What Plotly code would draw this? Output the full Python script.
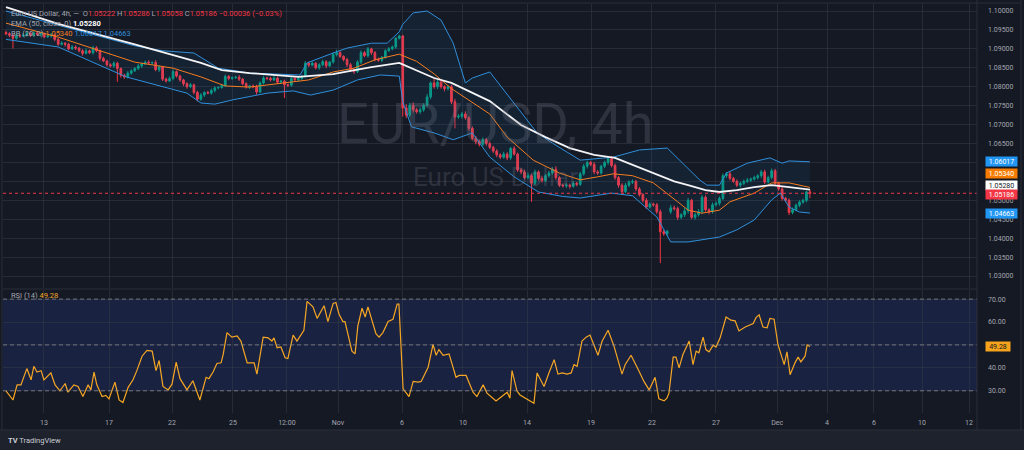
import plotly.graph_objects as go

# ---------------- layout geometry (pixels) ----------------
W, H = 1024, 450
ML, MR, MT, MB = 3, 47, 4, 37
PW = W - ML - MR
PH = H - MT - MB


def px(x):
    return (x - ML) / PW


def py(y):
    return (H - MB - y) / PH


# ---------------- data ----------------
FIRST_OPEN = 1.0943
CLOSE = [
    1.0940, 1.0936, 1.0928, 1.0935, 1.0934, 1.0936, 1.0942, 1.0936, 1.0942, 1.0938,
    1.0940, 1.0932, 1.0934, 1.0937, 1.0925, 1.0912, 1.0915, 1.0912, 1.0900, 1.0905,
    1.0902, 1.0895, 1.0888, 1.0895, 1.0890, 1.0903, 1.0895, 1.0875, 1.0868, 1.0858,
    1.0855, 1.0862, 1.0848, 1.0830, 1.0826, 1.0836, 1.0842, 1.0848, 1.0855, 1.0860,
    1.0865, 1.0863, 1.0864, 1.0845, 1.0852, 1.0820, 1.0815, 1.0822, 1.0840, 1.0828,
    1.0818, 1.0808, 1.0800, 1.0805, 1.0785, 1.0767, 1.0778, 1.0785, 1.0783, 1.0790,
    1.0797, 1.0798, 1.0803, 1.0827, 1.0822, 1.0824, 1.0825, 1.0820, 1.0808, 1.0800,
    1.0802, 1.0800, 1.0786, 1.0810, 1.0823, 1.0822, 1.0818, 1.0823, 1.0812, 1.0815,
    1.0805, 1.0804, 1.0822, 1.0818, 1.0822, 1.0828, 1.0862, 1.0857, 1.0862, 1.0850,
    1.0858, 1.0866, 1.0855, 1.0865, 1.0885, 1.0890, 1.0880, 1.0872, 1.0858, 1.0845,
    1.0840, 1.0865, 1.0890, 1.0882, 1.0900, 1.0890, 1.0872, 1.0870, 1.0878, 1.0895,
    1.0900, 1.0905, 1.0928, 1.0934, 1.0744, 1.0725, 1.0751, 1.0739, 1.0734, 1.0739,
    1.0751, 1.0773, 1.0810, 1.0800, 1.0812, 1.0800, 1.0795, 1.0800, 1.0760, 1.0720,
    1.0722, 1.0728, 1.0718, 1.0690, 1.0664, 1.0655, 1.0648, 1.0660, 1.0650, 1.0640,
    1.0630, 1.0620, 1.0614, 1.0622, 1.0612, 1.0637, 1.0622, 1.0580, 1.0575, 1.0560,
    1.0565, 1.0545, 1.0575, 1.0558, 1.0552, 1.0565, 1.0572, 1.0582, 1.0560, 1.0540,
    1.0538, 1.0540, 1.0537, 1.0545, 1.0542, 1.0570, 1.0590, 1.0600, 1.0595, 1.0575,
    1.0572, 1.0590, 1.0600, 1.0610, 1.0592, 1.0560, 1.0540, 1.0523, 1.0540, 1.0548,
    1.0550, 1.0530, 1.0515, 1.0500, 1.0482, 1.0490, 1.0488, 1.0470, 1.0417, 1.0412,
    1.0418, 1.0480, 1.0478, 1.0455, 1.0462, 1.0472, 1.0500, 1.0455, 1.0462, 1.0470,
    1.0508, 1.0475, 1.0470, 1.0488, 1.0492, 1.0505, 1.0565, 1.0570, 1.0558, 1.0550,
    1.0540, 1.0545, 1.0550, 1.0553, 1.0556, 1.0560, 1.0565, 1.0575, 1.0548, 1.0560,
    1.0578, 1.0545, 1.0530, 1.0505, 1.0500, 1.0468, 1.0475, 1.0487, 1.0495, 1.0500,
    1.05222, 1.05186,
]
GAP_OPEN = {191: 1.0470}  # weekend gap (bar index: open price)

WICK_UP_PIPS = [
    5, 4, 3, 6, 4, 5, 6, 3, 5, 4, 4, 3, 4, 5, 3, 4, 5, 3, 4, 5,
    4, 3, 4, 6, 3, 5, 4, 3, 4, 3, 4, 5, 4, 3, 4, 5, 4, 4, 5, 4,
    4, 5, 3, 6, 4, 3, 4, 5, 6, 3, 4, 3, 4, 5, 3, 4, 5, 3, 4, 5,
    4, 3, 4, 5, 4, 3, 4, 6, 3, 4, 3, 4, 5, 4, 6, 3, 4, 5, 4, 3,
    4, 3, 4, 5, 4, 3, 6, 4, 5, 3, 4, 5, 4, 3, 6, 8, 4, 3, 4, 5,
    3, 5, 6, 4, 5, 3, 4, 5, 3, 4, 5, 4, 3, 3, 3, 10, 6, 8, 5, 6,
    5, 8, 4, 11, 6, 5, 4, 3, 5, 8, 6, 5, 7, 4, 5, 6, 5, 6, 4, 5,
    4, 5, 4, 6, 5, 4, 6, 4, 5, 6, 8, 5, 6, 4, 7, 5, 6, 5, 8, 4,
    4, 5, 4, 6, 4, 5, 6, 5, 4, 6, 5, 4, 5, 4, 6, 5, 4, 5, 6, 5,
    5, 4, 5, 4, 6, 5, 4, 5, 6, 5, 4, 8, 6, 5, 4, 8, 6, 4, 5, 7,
    6, 5, 4, 6, 5, 5, 6, 5, 5, 4, 5, 4, 5, 6, 4, 5, 4, 5, 6, 5,
    6, 5, 4, 5, 4, 5, 6, 4, 5, 4, 3, 6.4,
]
WICK_DN_PIPS = [
    4, 5, 27, 4, 5, 3, 4, 5, 4, 3, 5, 4, 3, 4, 5, 4, 3, 6, 4, 3,
    5, 4, 6, 3, 4, 5, 4, 6, 3, 5, 4, 5, 35, 6, 5, 4, 5, 3, 4, 5,
    3, 4, 5, 4, 6, 5, 4, 3, 5, 4, 5, 6, 5, 3, 5, 6, 4, 5, 3, 4,
    5, 4, 3, 4, 5, 4, 3, 5, 4, 5, 6, 4, 7, 3, 4, 5, 4, 3, 5, 4,
    35, 5, 4, 3, 4, 5, 4, 5, 3, 4, 5, 4, 6, 3, 4, 5, 4, 5, 6, 5,
    6, 4, 5, 4, 5, 6, 5, 4, 5, 4, 3, 4, 5, 3, 23, 8, 6, 7, 5, 6,
    5, 4, 6, 5, 6, 5, 7, 5, 6, 30, 5, 6, 5, 6, 5, 7, 6, 5, 6, 5,
    5, 6, 5, 4, 6, 5, 4, 5, 6, 5, 4, 49, 5, 6, 5, 4, 5, 4, 6, 5,
    4, 5, 6, 4, 5, 4, 5, 6, 5, 6, 5, 4, 5, 6, 5, 6, 7, 5, 4, 5,
    5, 6, 5, 6, 5, 4, 5, 6, 83, 6, 5, 6, 5, 7, 5, 6, 7, 5, 6, 5,
    6, 5, 7, 5, 4, 6, 5, 6, 5, 4, 5, 6, 5, 4, 5, 4, 5, 6, 5, 4,
    5, 6, 5, 6, 5, 7, 5, 4, 5, 4, 5, 12.8,
]

# Indicator lines, read as polyline vertices (bar index, value)
EMA_T = [0, 15, 37, 56, 62, 70, 84, 94, 99, 105, 113, 115, 123, 128, 139, 148, 155,
         162, 169, 175, 184, 192, 196, 201, 205, 210, 215, 220, 225, 231]
EMA_V = [1.1010, 1.0966, 1.0912, 1.0863, 1.0844, 1.0836, 1.0826, 1.0833, 1.0842, 1.0852,
         1.0863, 1.0855, 1.0823, 1.0810, 1.0762, 1.0699, 1.0667, 1.0638, 1.0620, 1.0612,
         1.0580, 1.0550, 1.0540, 1.0527, 1.0522, 1.0527, 1.0535, 1.0540, 1.0535, 1.0528]

BB_MID_T = [0, 15, 37, 48, 56, 63, 70, 80, 87, 94, 100, 106, 113, 118, 123, 128, 139,
            144, 151.5, 159, 165, 170, 174.5, 180, 186, 193, 196, 200, 205, 208, 215,
            220, 225, 231]
BB_MID_V = [1.0968, 1.0931, 1.0865, 1.0849, 1.0826, 1.0802, 1.0799, 1.0810, 1.0818,
            1.0839, 1.0849, 1.0871, 1.0886, 1.0867, 1.0834, 1.0795, 1.0728, 1.0667,
            1.0606, 1.0572, 1.0554, 1.0562, 1.0570, 1.0565, 1.0546, 1.0496, 1.0474,
            1.0466, 1.0474, 1.0496, 1.0519, 1.0546, 1.0546, 1.0534]

BB_UP_T = [0, 15, 37, 45, 54, 61, 70, 84.5, 86.5, 94, 98, 105, 109.5, 113, 114, 117,
           121, 125, 128.5, 132, 134, 139, 146, 152.6, 157, 165, 174.5, 182, 190,
           195.7, 199.4, 201.4, 205, 207, 213, 219.5, 223, 225, 231]
BB_UP_V = [1.1000, 1.0962, 1.0908, 1.0895, 1.0889, 1.0849, 1.0836, 1.0831, 1.0863,
           1.0889, 1.0902, 1.0915, 1.0915, 1.0945, 1.0965, 1.0995, 1.1000, 1.0976,
           1.0915, 1.0810, 1.0823, 1.0839, 1.0757, 1.0678, 1.0651, 1.0606, 1.0614,
           1.0633, 1.0638, 1.0588, 1.0553, 1.0540, 1.0540, 1.0572, 1.0598, 1.0612,
           1.0598, 1.0604, 1.06017]

BB_LO_T = [0, 15, 34.5, 52, 56, 60, 65, 75, 82.5, 87.5, 94, 101, 107.5, 113, 114,
           116.5, 123, 128.5, 134, 139, 146, 153, 160, 165, 174, 180, 184, 187, 191,
           196, 205, 210, 215, 220, 222.5, 225, 228, 231]
BB_LO_V = [1.0925, 1.0905, 1.0826, 1.0783, 1.0757, 1.0754, 1.0765, 1.0783, 1.0789,
           1.0778, 1.0791, 1.0818, 1.0831, 1.0828, 1.0760, 1.0694, 1.0678, 1.0660,
           1.0678, 1.0614, 1.0562, 1.0522, 1.0510, 1.0506, 1.0519, 1.0512, 1.0480,
           1.0456, 1.0390, 1.0390, 1.0403, 1.0422, 1.0448, 1.0501, 1.0519, 1.0482,
           1.0469, 1.04663]

RSI_T = [0.0, 2.0, 3.2, 4.3, 6.0, 7.2, 8.0, 8.9, 10.1, 10.9, 12.9, 14.1, 15.5, 17.0,
         17.8, 19.5, 20.7, 22.1, 23.6, 24.4, 25.3, 26.1, 27.6, 28.7, 29.6, 31.3, 32.5,
         33.6, 35.1, 36.5, 37.6, 39.1, 40.5, 42.0, 43.1, 44.0, 45.1, 46.6, 47.7, 48.9,
         50.0, 52.0, 53.7, 55.7, 57.5, 58.3, 59.5, 60.6, 61.8, 62.4, 63.5, 64.9, 66.4,
         67.5, 69.3, 71.3, 72.1, 73.9, 75.3, 76.4, 77.0, 77.9, 79.0, 80.2, 81.0, 82.2,
         82.5, 83.6, 85.6, 86.5, 88.2, 89.4, 91.4, 92.5, 94.0, 94.8, 95.7, 96.8, 97.4,
         99.4, 100.3, 101.1, 102.3, 103.2, 104.0, 106.3, 107.2, 108.3, 109.8, 111.2,
         112.4, 112.9, 114.1, 115.8, 117.0, 118.4, 119.3, 121.3, 122.7, 123.6, 124.4,
         125.6, 127.3, 129.3, 130.2, 132.2, 134.2, 135.3, 137.1, 138.2, 140.8, 144.0,
         144.8, 145.4, 146.8, 147.7, 149.7, 151.7, 152.6, 154.6, 156.0, 157.5, 158.6,
         159.8, 161.2, 162.4, 163.2, 164.1, 165.5, 166.7, 167.8, 170.1, 171.3, 173.0,
         174.7, 177.0, 177.9, 179.6, 181.9, 183.3, 184.8, 186.5, 187.6, 189.1, 189.9,
         190.5, 191.7, 192.5, 193.4, 194.5, 196.3, 197.4, 198.3, 199.1, 200.3, 201.1,
         202.0, 203.2, 204.0, 205.2, 206.9, 208.3, 209.5, 210.6, 212.4, 214.7, 215.5,
         216.4, 217.5, 218.7, 219.5, 220.7, 221.8, 223.6, 224.4, 225.3, 226.7, 227.6,
         228.4, 229.6, 230.2, 231.0]
RSI_V = [30.0, 26.0, 32.6, 32.6, 39.7, 34.8, 40.7, 38.2, 38.8, 34.8, 37.8, 32.6, 30.0,
         33.2, 29.4, 32.6, 31.9, 27.5, 32.6, 30.4, 38.2, 32.6, 27.5, 28.0, 26.5, 33.8,
         26.0, 24.9, 31.5, 34.8, 38.8, 45.1, 47.6, 47.3, 38.8, 43.2, 31.9, 30.4, 32.9,
         42.5, 35.3, 30.4, 34.4, 26.0, 35.9, 35.3, 38.2, 41.9, 42.2, 45.8, 55.4, 53.4,
         53.9, 51.7, 42.2, 42.2, 37.3, 53.4, 53.1, 51.7, 53.1, 48.8, 49.1, 44.4, 44.1,
         52.4, 54.3, 51.7, 56.4, 69.0, 66.6, 61.6, 67.1, 60.2, 68.1, 68.5, 63.4, 60.2,
         60.2, 47.3, 46.1, 58.3, 66.0, 62.2, 66.6, 54.9, 53.4, 55.4, 60.2, 61.2, 67.8,
         67.8, 30.9, 27.5, 34.1, 33.8, 34.1, 40.3, 50.2, 45.5, 48.0, 45.5, 46.1, 35.9,
         36.7, 36.7, 29.4, 27.5, 32.6, 29.0, 25.6, 29.4, 26.8, 38.8, 30.0, 28.2, 26.5,
         24.6, 37.8, 31.9, 37.8, 43.6, 37.3, 37.8, 37.3, 37.8, 41.4, 40.7, 51.7, 53.4,
         54.3, 45.5, 51.7, 56.4, 49.5, 37.3, 41.4, 45.5, 38.5, 34.1, 30.4, 35.9, 26.5,
         25.6, 26.8, 29.0, 44.7, 44.7, 40.0, 45.8, 51.7, 41.4, 47.3, 46.6, 53.4, 48.0,
         47.0, 49.9, 49.1, 53.1, 62.2, 60.8, 60.5, 56.1, 57.8, 59.3, 61.9, 63.1, 57.8,
         57.5, 61.6, 61.2, 50.2, 41.4, 47.0, 37.0, 42.2, 44.7, 42.6, 45.1, 50.0, 49.28]

TICK_TEXT = ["13", "17", "22", "25", "12:00", "Nov", "6", "10", "14", "19", "22", "27",
             "Dec", "4", "6", "10", "12"]
TICK_BAR = [10.9, 29.6, 47.7, 65.2, 80.7, 95.4, 113.8, 131.3, 149.7, 168.1, 185.6, 204.0,
            221.6, 235.9, 249.4, 263.2, 276.7]

# price axis: tick levels and their labels (levels hidden behind value boxes are blank)
PRICE_TICKS = [1.030, 1.035, 1.040, 1.045, 1.050, 1.055, 1.060, 1.065, 1.070, 1.075,
               1.080, 1.085, 1.090, 1.095, 1.100]
PRICE_TICK_TEXT = ["1.03000", "1.03500", "1.04000", "1.04500", "1.05000", "", "",
                   "1.06500", "1.07000", "1.07500", "1.08000", "1.08500", "1.09000",
                   "1.09500", "1.10000"]
RSI_TICKS = [20, 30, 40, 50, 60, 70]
RSI_TICK_TEXT = ["20.00", "30.00", "40.00", "", "60.00", "70.00"]

# ---------------- derived OHLC ----------------
N = len(CLOSE)
bars = list(range(N))
opens = []
for i in bars:
    if i in GAP_OPEN:
        opens.append(GAP_OPEN[i])
    elif i == 0:
        opens.append(FIRST_OPEN)
    else:
        opens.append(CLOSE[i - 1])
highs = [max(o, c) + u * 1e-4 for o, c, u in zip(opens, CLOSE, WICK_UP_PIPS)]
lows = [min(o, c) - d * 1e-4 for o, c, d in zip(opens, CLOSE, WICK_DN_PIPS)]

GREEN = "#089981"
RED = "#f23645"
BLUE = "#2f8fdc"
ORANGE = "#f57c1f"
RSI_COL = "#f5a623"
TXT = "#a3a6af"
BG = "#151924"
GRID = "rgba(54,58,70,0.55)"
FONT = "Roboto"

fig = go.Figure()

# Bollinger band fill + lines
fig.add_trace(go.Scatter(x=BB_UP_T, y=BB_UP_V, mode="lines", line=dict(color=BLUE, width=1),
                         hoverinfo="skip", showlegend=False, xaxis="x", yaxis="y"))
fig.add_trace(go.Scatter(x=BB_LO_T, y=BB_LO_V, mode="lines", line=dict(color=BLUE, width=1),
                         fill="tonexty", fillcolor="rgba(33,150,243,0.07)",
                         hoverinfo="skip", showlegend=False, xaxis="x", yaxis="y"))
fig.add_trace(go.Scatter(x=BB_MID_T, y=BB_MID_V, mode="lines", line=dict(color=ORANGE, width=1),
                         hoverinfo="skip", showlegend=False, xaxis="x", yaxis="y"))

# candles
fig.add_trace(go.Candlestick(
    x=bars, open=opens, high=highs, low=lows, close=CLOSE,
    increasing=dict(line=dict(color=GREEN, width=1), fillcolor=GREEN),
    decreasing=dict(line=dict(color=RED, width=1), fillcolor=RED),
    whiskerwidth=0, showlegend=False, xaxis="x", yaxis="y", hoverinfo="skip"))

# EMA
fig.add_trace(go.Scatter(x=EMA_T, y=EMA_V, mode="lines", line=dict(color="#f4f4f6", width=1.8),
                         hoverinfo="skip", showlegend=False, xaxis="x", yaxis="y"))

# RSI
fig.add_trace(go.Scatter(x=RSI_T, y=RSI_V, mode="lines", line=dict(color=RSI_COL, width=1.2),
                         hoverinfo="skip", showlegend=False, xaxis="x", yaxis="y2"))

last_close = CLOSE[-1]
last_open = opens[-1]
last_high = highs[-1]
last_low = lows[-1]
chg = last_close - CLOSE[-2]
chg_pct = chg / CLOSE[-2] * 100

shapes = [
    # RSI band
    dict(type="rect", xref="paper", yref="y2", x0=0, x1=1, y0=30, y1=70,
         fillcolor="#1a2242", line=dict(width=0), layer="below"),
    # bottom strip
    dict(type="rect", xref="paper", yref="paper", x0=px(0), x1=px(W), y0=py(H), y1=py(430),
         fillcolor="#1e222d", line=dict(width=0), layer="below"),
]
for lvl in (70, 50, 30):
    shapes.append(dict(type="line", xref="paper", yref="y2", x0=0, x1=1, y0=lvl, y1=lvl,
                       line=dict(color="rgba(140,143,154,0.75)", width=1, dash="4px,3px")))
# last price dotted line
shapes.append(dict(type="line", xref="paper", yref="y", x0=0, x1=1, y0=last_close, y1=last_close,
                   line=dict(color=RED, width=1, dash="dot")))
# pane borders
for (x0, y0, x1, y1) in [(977, 0, 977, 430), (ML, 289, 977, 289), (0, 430, W, 430),
                         (ML, MT - 1, 1021, MT - 1), (1021, 0, 1021, 430), (2, 0, 2, 430)]:
    shapes.append(dict(type="line", xref="paper", yref="paper", x0=px(x0), x1=px(x1),
                       y0=py(y0), y1=py(y1), line=dict(color="#2a2e39", width=1)))

ann = []


def span(t, c, bold=False):
    if bold:
        t = f"<b>{t}</b>"
    return f"<span style='color:{c}'>{t}</span>"


line1 = (span("Euro US Dollar, 4h, \u2014 &nbsp;", TXT)
         + span("O", TXT) + span(f"{last_open:.5f} ", RED)
         + span("H", TXT) + span(f"{last_high:.5f} ", RED)
         + span("L", TXT) + span(f"{last_low:.5f} ", RED)
         + span("C", TXT) + span(f"{last_close:.5f} ", RED)
         + span(f"\u2212{abs(chg):.5f} (\u2212{abs(chg_pct):.2f}%)", RED))
line2 = span("EMA (50, close, 0) ", TXT) + span(f"{EMA_V[-1]:.5f}", "#ffffff", bold=True)
line3 = (span("BB (20, 2) ", TXT) + span(f"{BB_MID_V[-1]:.5f} ", ORANGE)
         + span(f"{BB_UP_V[-1]:.5f} ", BLUE) + span(f"{BB_LO_V[-1]:.5f}", BLUE))
line4 = span("RSI (14) ", TXT) + span(f"{RSI_V[-1]:.2f}", RSI_COL)
for txt, yy in [(line1, 13), (line2, 23), (line3, 33), (line4, 295)]:
    ann.append(dict(xref="paper", yref="paper", x=px(9), y=py(yy), xanchor="left",
                    yanchor="middle", text=txt, showarrow=False,
                    font=dict(family=FONT, size=7.5, color=TXT)))

# watermark
ann.append(dict(xref="paper", yref="paper", x=px(495), y=py(124), xanchor="center",
                yanchor="middle", text="EUR/USD, 4h", showarrow=False,
                font=dict(family=FONT, size=56, color="rgba(120,124,138,0.26)")))
ann.append(dict(xref="paper", yref="paper", x=px(495), y=py(177), xanchor="center",
                yanchor="middle", text="Euro US Dollar", showarrow=False,
                font=dict(family=FONT, size=26, color="rgba(120,124,138,0.26)")))

# right axis value labels
for val, bg, fg, shift in [
    (BB_UP_V[-1], "#2196f3", "#ffffff", 0),
    (BB_MID_V[-1], "#f57c00", "#ffffff", 14),
    (EMA_V[-1], "#ffffff", "#131722", 4.5),
    (last_close, RED, "#ffffff", -1.5),
    (BB_LO_V[-1], "#2196f3", "#ffffff", 0),
]:
    ann.append(dict(xref="paper", yref="y", x=px(985), y=val, yshift=shift, xanchor="left",
                    yanchor="middle", text=f"{val:.5f}", showarrow=False, bgcolor=bg,
                    width=29, height=7, borderpad=1,
                    font=dict(family=FONT, size=7, color=fg)))
ann.append(dict(xref="paper", yref="y2", x=px(985), y=RSI_V[-1], xanchor="left",
                yanchor="middle", text=f"{RSI_V[-1]:.2f}", showarrow=False, bgcolor="#f5a31a",
                width=22, height=7, borderpad=1, font=dict(family=FONT, size=7, color="#131722")))

# TradingView logo
ann.append(dict(xref="paper", yref="paper", x=px(6), y=py(440), xanchor="left", yanchor="middle",
                text="<b>TV</b> TradingView", showarrow=False,
                font=dict(family=FONT, size=7.5, color="#c9ccd4")))

fig.update_layout(
    width=W, height=H,
    margin=dict(l=ML, r=MR, t=MT, b=MB),
    paper_bgcolor=BG, plot_bgcolor=BG,
    showlegend=False,
    shapes=shapes, annotations=ann,
    font=dict(family=FONT, size=7, color=TXT),
    xaxis=dict(range=[-0.86, 279.0], tickvals=TICK_BAR, ticktext=TICK_TEXT, showgrid=True,
               gridcolor=GRID, gridwidth=1, zeroline=False, showline=False, anchor="y2",
               rangeslider=dict(visible=False), ticks="", ticklabelstandoff=4,
               tickfont=dict(family=FONT, size=7, color=TXT)),
    yaxis=dict(domain=[py(288), 1], range=[1.026836, 1.101849], side="right",
               tickvals=PRICE_TICKS, ticktext=PRICE_TICK_TEXT, showgrid=True, gridcolor=GRID,
               zeroline=False, showline=False, ticks="", ticklabelstandoff=10,
               tickfont=dict(family=FONT, size=7, color=TXT), anchor="x"),
    yaxis2=dict(domain=[0, py(290)], range=[20.33, 73.96], side="right",
                tickvals=RSI_TICKS, ticktext=RSI_TICK_TEXT, showgrid=True,
                gridcolor=GRID, zeroline=False, showline=False, ticks="", ticklabelstandoff=10,
                tickfont=dict(family=FONT, size=7, color=TXT), anchor="x"),
)

fig.write_html("out.html")
